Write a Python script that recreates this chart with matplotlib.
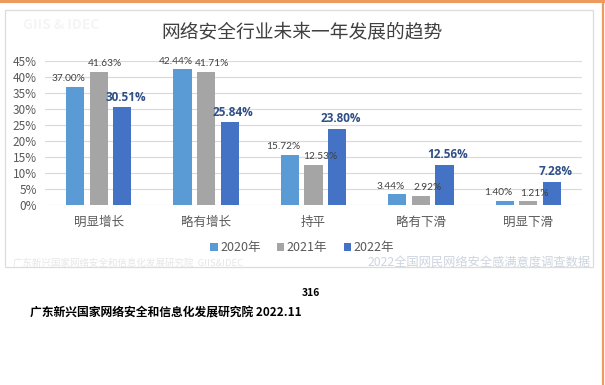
import matplotlib.pyplot as plt
import numpy as np
from matplotlib.patches import Patch, Rectangle
from matplotlib.lines import Line2D

plt.rcParams['font.family'] = ['Noto Sans CJK SC', 'DejaVu Sans']

categories = ["明显增长", "略有增长", "持平", "略有下滑", "明显下滑"]
years = ["2020年", "2021年", "2022年"]
v2020 = [37.00, 42.44, 15.72, 3.44, 1.40]
v2021 = [41.63, 41.71, 12.53, 2.92, 1.21]
v2022 = [30.51, 25.84, 23.80, 12.56, 7.28]
yticks = [0, 5, 10, 15, 20, 25, 30, 35, 40, 45]

colors = ["#5B9BD5", "#A5A5A5", "#4472C4"]
W, H = 605, 385

fig = plt.figure(figsize=(W / 100, H / 100), dpi=100)
fig.patch.set_facecolor("white")

def fx(x):
    return x / W

def fy(y):
    return 1 - y / H

# card + orange frame
fig.patches.append(Rectangle((fx(5), fy(267)), fx(593) - fx(5), fy(10) - fy(267),
                             transform=fig.transFigure, fill=False,
                             edgecolor="#dcdcdc", lw=0.9))
fig.lines.append(Line2D([0, fx(603)], [fy(1), fy(1)], transform=fig.transFigure,
                        color="#EC9A5E", lw=2.2))
fig.lines.append(Line2D([fx(603), fx(603)], [fy(0), 0], transform=fig.transFigure,
                        color="#EC9A5E", lw=1.6))

ax = fig.add_axes([fx(45), fy(205), fx(582) - fx(45), fy(61) - fy(205)])
x = np.arange(len(categories))
off = 0.22
bw = 0.17
shift = [-4.5, 4.5, 2.5]  # label nudge in points, like the excel layout
for i, vals in enumerate([v2020, v2021, v2022]):
    bars = ax.bar(x + (i - 1) * off, vals, bw, color=colors[i], zorder=3)
    for b, v in zip(bars, vals):
        if i == 2:
            ax.annotate(f"{v:.2f}%", (b.get_x() + b.get_width() / 2, v),
                        xytext=(shift[i], 2.5), textcoords="offset points",
                        ha="center", va="bottom", fontsize=8.5,
                        fontweight="bold", color="#2F4F86",
                        family=["Open Sans", "DejaVu Sans"], zorder=4)
        else:
            ax.annotate(f"{v:.2f}%", (b.get_x() + b.get_width() / 2, v),
                        xytext=(shift[i], 2.5), textcoords="offset points",
                        ha="center", va="bottom", fontsize=7.3,
                        color="#404040", family=["Lato", "DejaVu Sans"],
                        zorder=4)

ax.set_xlim(-0.5, 4.5)
ax.set_ylim(0, 45)
ax.set_yticks(yticks)
ax.set_yticklabels([f"{t}%" for t in yticks], fontsize=8.5, color="#595959")
ax.set_xticks(x)
ax.set_xticklabels(categories, fontsize=9, color="#595959")
ax.tick_params(length=0, pad=6)
ax.tick_params(axis="x", pad=8)
ax.grid(axis="y", color="#d9d9d9", lw=0.8, zorder=0)
for s in ax.spines.values():
    s.set_visible(False)

# title and watermarks
fig.text(fx(302), fy(32), "网络安全行业未来一年发展的趋势", ha="center", va="center",
         fontsize=13.5, color="#404040", fontweight="medium")
fig.text(fx(23), fy(25), "GIIS & IDEC", ha="left", va="center", fontsize=10,
         fontweight="bold", color="#f5f5f5")
fig.text(fx(13), fy(263), "广东新兴国家网络安全和信息化发展研究院  GIIS&IDEC", ha="left",
         va="center", fontsize=6.8, color="#e6e6e6")
fig.text(fx(591), fy(262), "2022全国网民网络安全感满意度调查数据", ha="right",
         va="center", fontsize=8.8, color="#cdd4df")

handles = [Patch(facecolor=c) for c in colors]
leg = fig.legend(handles, years, loc="center", bbox_to_anchor=(fx(302), fy(248)),
                 ncol=3, frameon=False, fontsize=9, handlelength=0.6,
                 handleheight=0.6, handletextpad=0.2, columnspacing=1.3)
for t in leg.get_texts():
    t.set_color("#595959")

# page text below the card
fig.text(fx(311), fy(293), "316", ha="center", va="center", fontsize=7.5,
         fontweight="bold", color="black")
fig.text(fx(30), fy(313), "广东新兴国家网络安全和信息化发展研究院 2022.11", ha="left",
         va="center", fontsize=8.5, fontweight="bold", color="black")

fig.savefig("out.png", dpi=100)
